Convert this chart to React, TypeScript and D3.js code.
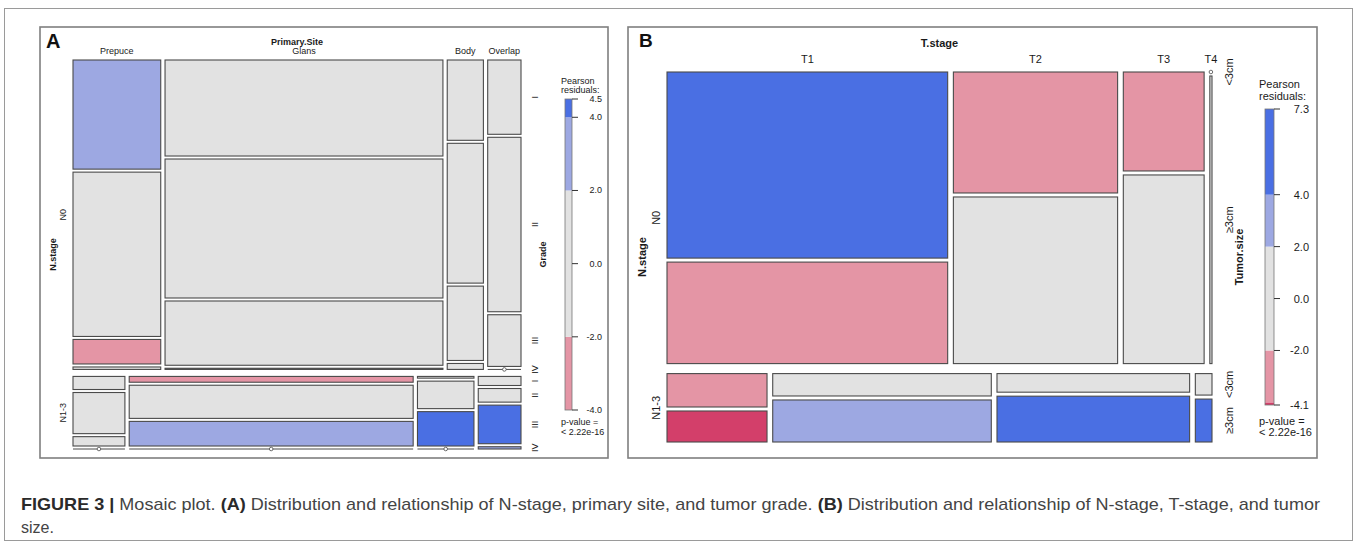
import React from "react";
import * as d3 from "d3";

// ---- Panel A: N.stage x Primary.Site x Grade ----
const nStages = ["N0", "N1-3"];
const sites = ["Prepuce", "Glans", "Body", "Overlap"];
const grades = ["I", "II", "III", "IV"];
// counts per site, per grade (I..IV)
const gradeCountsN0 = [
  [89, 134, 20, 2],
  [248, 359, 166, 3],
  [27, 47, 25, 2],
  [23, 54, 16, 0],
];
const gradeCountsN13 = [
  [7, 22, 5, 0],
  [17, 97, 72, 0],
  [1, 16, 20, 0],
  [4, 6, 17, 1],
];
const gradeResidN0 = [
  [2.9, -0.3, -2.6, 0.2],
  [-0.6, 0.5, 0.4, -0.3],
  [0.1, 0.2, 0.6, 0.9],
  [0.0, 1.1, -0.4, -0.6],
];
const gradeResidN13 = [
  [-0.9, 1.4, -1.2, -0.7],
  [-2.3, 0.1, 2.2, -1.0],
  [-1.6, -0.4, 4.5, -0.4],
  [-0.5, -0.7, 4.2, 2.1],
];
const legendTicksA = [4.5, 4.0, 2.0, 0.0, -2.0, -4.0];

// ---- Panel B: N.stage x T.stage x Tumor.size ----
const tStages = ["T1", "T2", "T3", "T4"];
const tumorSizes = ["<3cm", "\u22653cm"];
const sizeCountsN0 = [
  [418, 228],
  [159, 219],
  [64, 122],
  [0, 5],
];
const sizeCountsN13 = [
  [28, 26],
  [41, 77],
  [30, 74],
  [3, 6],
];
const sizeResidN0 = [
  [7.3, -3.1],
  [-2.8, 1.2],
  [-2.2, 0.9],
  [-0.8, 0.4],
];
const sizeResidN13 = [
  [-2.5, -4.1],
  [-1.1, 3.2],
  [-0.6, 5.4],
  [0.2, 4.3],
];
const legendTicksB = [7.3, 4.0, 2.0, 0.0, -2.0, -4.1];

const shadeBreaks = [-4, -2, 2, 4];
const shadeColors = ["#D33F6A", "#E495A5", "#E2E2E2", "#9DA8E2", "#4A6FE3"];
const shade = d3.scaleThreshold<number, string>().domain(shadeBreaks).range(shadeColors);

const FONT = "'Liberation Sans', Arial, Helvetica, sans-serif";
const TEXT = "#1a1a1a";
const BORDER = "#4a4a4a";

// split an interval by counts, keeping a fixed gap between pieces (like vcd strucplot)
function split(start: number, length: number, counts: number[], gap: number) {
  const avail = length - gap * (counts.length - 1);
  const s = d3.scaleLinear().domain([0, d3.sum(counts)]).range([0, avail]);
  const offsets = d3.cumsum([0, ...counts]);
  return counts.map((c, i) => ({ pos: start + s(offsets[i]) + gap * i, size: s(c) }));
}

interface MosaicProps {
  box: [number, number, number, number]; // x0, x1, y0, y1
  counts: number[][][];
  resid: number[][][];
  gaps: [number, number, number];
  rowNames: string[];
  colNames: string[];
  innerNames: string[];
  rowVar: string;
  colVar: string;
  innerVar: string;
  fontSize: number;
  topVarY: number;
  topLevelY: number;
  leftVarX: number;
  leftLevelX: number;
  rightLevelX: number;
  rightVarX: number;
}

const Mosaic: React.FC<MosaicProps> = (p) => {
  const [x0, x1, y0, y1] = p.box;
  const rowTotals = p.counts.map((r) => d3.sum(r.flat()));
  const rows = split(y0, y1 - y0, rowTotals, p.gaps[0]);

  const tiles: React.ReactNode[] = [];
  const topLabels: React.ReactNode[] = [];
  const rightLabels: React.ReactNode[] = [];

  rows.forEach((row, ri) => {
    const colTotals = p.counts[ri].map((c) => d3.sum(c));
    const cols = split(x0, x1 - x0, colTotals, p.gaps[1]);
    cols.forEach((col, ci) => {
      const cells = split(row.pos, row.size, p.counts[ri][ci], p.gaps[2]);
      cells.forEach((cell, k) => {
        const key = `${ri}-${ci}-${k}`;
        if (p.counts[ri][ci][k] === 0) {
          tiles.push(
            <g key={key}>
              <line x1={col.pos} x2={col.pos + col.size} y1={cell.pos} y2={cell.pos} stroke={BORDER} strokeWidth={1} />
              <circle cx={col.pos + col.size / 2} cy={cell.pos} r={1.8} fill="white" stroke={BORDER} strokeWidth={0.8} />
            </g>
          );
        } else {
          tiles.push(
            <rect
              key={key}
              x={col.pos}
              y={cell.pos}
              width={col.size}
              height={cell.size}
              fill={shade(p.resid[ri][ci][k])}
              stroke={BORDER}
              strokeWidth={1.1}
            />
          );
        }
        if (ci === cols.length - 1) {
          const cy = cell.pos + cell.size / 2;
          rightLabels.push(
            <text
              key={"r" + key}
              transform={`translate(${p.rightLevelX},${cy}) rotate(-90)`}
              textAnchor="middle"
              dominantBaseline="central"
            >
              {p.innerNames[k]}
            </text>
          );
        }
      });
      if (ri === 0) {
        topLabels.push(
          <text key={"t" + ci} x={col.pos + col.size / 2} y={p.topLevelY} textAnchor="middle">
            {p.colNames[ci]}
          </text>
        );
      }
    });
  });

  return (
    <g fontFamily={FONT} fontSize={p.fontSize} fill={TEXT}>
      {tiles}
      {topLabels}
      {rightLabels}
      <text x={(x0 + x1) / 2} y={p.topVarY} textAnchor="middle" fontWeight="bold">
        {p.colVar}
      </text>
      {rows.map((row, ri) => (
        <text
          key={"l" + ri}
          transform={`translate(${p.leftLevelX},${row.pos + row.size / 2}) rotate(-90)`}
          textAnchor="middle"
          dominantBaseline="central"
        >
          {p.rowNames[ri]}
        </text>
      ))}
      <text
        transform={`translate(${p.leftVarX},${(y0 + y1) / 2}) rotate(-90)`}
        textAnchor="middle"
        dominantBaseline="central"
        fontWeight="bold"
      >
        {p.rowVar}
      </text>
      <text
        transform={`translate(${p.rightVarX},${(y0 + y1) / 2}) rotate(-90)`}
        textAnchor="middle"
        dominantBaseline="central"
        fontWeight="bold"
      >
        {p.innerVar}
      </text>
    </g>
  );
};

interface LegendProps {
  x: number;
  w: number;
  top: number;
  bottom: number;
  ticks: number[];
  labelX: number;
  titleX: number;
  titleY: [number, number];
  pY: [number, number];
  fontSize: number;
}

const Legend: React.FC<LegendProps> = (p) => {
  const [lo, hi] = d3.extent(p.ticks) as [number, number];
  const y = d3.scaleLinear().domain([lo, hi]).range([p.bottom, p.top]);
  const stops = [lo, ...shadeBreaks.filter((b) => b > lo && b < hi), hi];
  const segs = d3.pairs(stops);
  return (
    <g fontFamily={FONT} fontSize={p.fontSize} fill={TEXT}>
      <text x={p.titleX} y={p.titleY[0]}>Pearson</text>
      <text x={p.titleX} y={p.titleY[1]}>residuals:</text>
      {segs.map(([a, b], i) => (
        <rect key={i} x={p.x} y={y(b)} width={p.w} height={y(a) - y(b)} fill={shade((a + b) / 2)} />
      ))}
      <rect x={p.x} y={p.top} width={p.w} height={p.bottom - p.top} fill="none" stroke="#777" strokeWidth={0.8} />
      {p.ticks.map((t) => (
        <g key={t}>
          <line x1={p.x + p.w} x2={p.x + p.w + 6} y1={y(t)} y2={y(t)} stroke="#333" strokeWidth={1} />
          <text x={p.labelX} y={y(t)} textAnchor="end" dominantBaseline="central">
            {t.toFixed(1)}
          </text>
        </g>
      ))}
      <text x={p.titleX} y={p.pY[0]}>p-value =</text>
      <text x={p.titleX} y={p.pY[1]}>&lt; 2.22e-16</text>
    </g>
  );
};

const captionLine1 = [
  { t: "FIGURE 3 | ", b: true },
  { t: "Mosaic plot. ", b: false },
  { t: "(A) ", b: true },
  { t: "Distribution and relationship of N-stage, primary site, and tumor grade. ", b: false },
  { t: "(B) ", b: true },
  { t: "Distribution and relationship of N-stage, T-stage, and tumor", b: false },
];
const captionLine2 = "size.";

const App: React.FC = () => {
  return (
    <div style={{ position: "absolute", left: 0, top: 0 }}>
      <svg width={1359} height={544} style={{ display: "block", background: "white" }}>
        <rect x={4.5} y={8.5} width={1348} height={532} fill="none" stroke="#9a9a9a" strokeWidth={1} />

        {/* Panel A */}
        <rect x={40} y={27} width={568} height={431} fill="white" stroke="#7f7f7f" strokeWidth={1.6} />
        <text x={46} y={48} fontFamily={FONT} fontSize={20} fontWeight="bold" fill="#111">A</text>
        <Mosaic
          box={[73, 521, 60, 449]}
          counts={[gradeCountsN0, gradeCountsN13]}
          resid={[gradeResidN0, gradeResidN13]}
          gaps={[7, 4.3, 3]}
          rowNames={nStages}
          colNames={sites}
          innerNames={grades}
          rowVar="N.stage"
          colVar="Primary.Site"
          innerVar="Grade"
          fontSize={9}
          topVarY={44.5}
          topLevelY={53.5}
          leftVarX={53}
          leftLevelX={63}
          rightLevelX={535}
          rightVarX={543}
        />
        <Legend
          x={565}
          w={7}
          top={99}
          bottom={410}
          ticks={legendTicksA}
          labelX={602}
          titleX={561}
          titleY={[84, 93]}
          pY={[425, 435]}
          fontSize={9}
        />

        {/* Panel B */}
        <rect x={628} y={27} width={689} height={431} fill="white" stroke="#7f7f7f" strokeWidth={1.6} />
        <text x={639} y={47} fontFamily={FONT} fontSize={19} fontWeight="bold" fill="#111">B</text>
        <Mosaic
          box={[667, 1212, 72, 442]}
          counts={[sizeCountsN0, sizeCountsN13]}
          resid={[sizeResidN0, sizeResidN13]}
          gaps={[10, 5.7, 4]}
          rowNames={nStages}
          colNames={tStages}
          innerNames={tumorSizes}
          rowVar="N.stage"
          colVar="T.stage"
          innerVar="Tumor.size"
          fontSize={11}
          topVarY={47}
          topLevelY={62.5}
          leftVarX={642}
          leftLevelX={656}
          rightLevelX={1229}
          rightVarX={1239}
        />
        <Legend
          x={1265}
          w={9}
          top={109}
          bottom={405}
          ticks={legendTicksB}
          labelX={1309}
          titleX={1259}
          titleY={[88, 100]}
          pY={[425, 436]}
          fontSize={11}
        />

        {/* caption */}
        <text x={21} y={510} fontFamily={FONT} fontSize={17} fill="#3a3a3a" textLength={1299} lengthAdjust="spacingAndGlyphs">
          {captionLine1.map((s, i) => (
            <tspan key={i} fontWeight={s.b ? "bold" : "normal"} fill={s.b ? "#2a2a2a" : "#444"}>
              {s.t}
            </tspan>
          ))}
        </text>
        <text x={21} y={533} fontFamily={FONT} fontSize={17} fill="#444" textLength={33} lengthAdjust="spacingAndGlyphs">
          {captionLine2}
        </text>
      </svg>
    </div>
  );
};

export default App;
